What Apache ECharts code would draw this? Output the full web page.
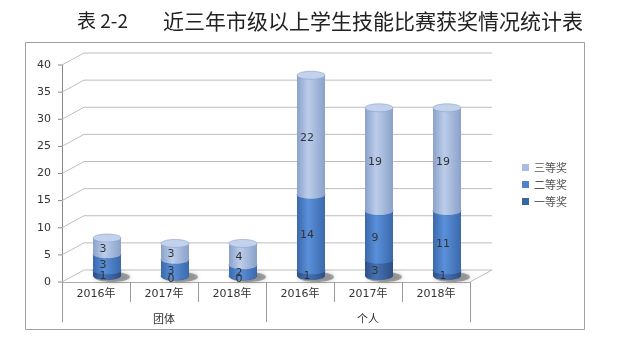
<!DOCTYPE html>
<html lang="zh">
<head>
<meta charset="UTF-8">
<title>近三年市级以上学生技能比赛获奖情况统计表</title>
<script src="https://cdn.jsdelivr.net/npm/echarts@6/dist/echarts.min.js"></script>
<style>
  html, body { margin: 0; padding: 0; background: #fff; }
  #main { width: 620px; height: 352px; }
</style>
</head>
<body>
<div id="main"></div>
<script>
var years = ['2016年', '2017年', '2018年', '2016年', '2017年', '2018年'];
var groups = ['团体', '个人'];
var first = [1, 0, 0, 1, 3, 1];       // 一等奖
var second = [3, 3, 2, 14, 9, 11];    // 二等奖
var third = [3, 3, 4, 22, 19, 19];    // 三等奖
var yTicks = [0, 5, 10, 15, 20, 25, 30, 35, 40];

var DX = 22, DY = -12;   // depth of the 3d box
var BAR_W = 28, CAP = 4;
var numFont = '"DejaVu Sans", "Noto Sans CJK SC", sans-serif';
var cjkFont = '"Noto Sans CJK SC", sans-serif';

function stack(vals, below) {
    return vals.map(function (v, i) {
        var base = 0;
        below.forEach(function (arr) { base += arr[i]; });
        return [i, base, v];
    });
}

function shade(light, dark) {
    return new echarts.graphic.LinearGradient(0, 0, 1, 0, [
        { offset: 0, color: dark },
        { offset: 0.4, color: light },
        { offset: 1, color: dark }
    ]);
}

// one stacked piece of a cylinder, plus its value label
function cylinder(light, dark, cap) {
    return function (params, api) {
        var bot = api.coord([api.value(0), api.value(1)]);
        var top = api.coord([api.value(0), api.value(1) + api.value(2)]);
        var cx = bot[0], rx = BAR_W / 2;
        var fill = shade(light, dark);
        return {
            type: 'group',
            children: [
                { type: 'ellipse', shape: { cx: cx, cy: bot[1], rx: rx, ry: CAP }, style: { fill: fill } },
                { type: 'rect', shape: { x: cx - rx, y: top[1], width: BAR_W, height: bot[1] - top[1] }, style: { fill: fill } },
                { type: 'ellipse', shape: { cx: cx, cy: top[1], rx: rx, ry: CAP }, style: { fill: cap, stroke: dark, lineWidth: 0.6 } },
                {
                    type: 'text', z2: 100,
                    x: cx - 4, y: (top[1] + bot[1]) / 2 + 3,
                    style: {
                        text: String(api.value(2)), fill: '#333', font: '11px ' + numFont,
                        textAlign: 'center', textVerticalAlign: 'middle'
                    }
                }
            ]
        };
    };
}

// back wall grid lines, the diagonals and the floor
function walls(params, api) {
    var cs = params.coordSys;
    var y = api.coord([0, api.value(1)])[1];
    var x0 = cs.x, x1 = cs.x + cs.width;
    var st = { stroke: '#bdbdbd', lineWidth: 1 };
    var kids = [
        { type: 'line', shape: { x1: x0 - 4, y1: y, x2: x0, y2: y }, style: { stroke: '#888', lineWidth: 1 } },
        { type: 'line', shape: { x1: x0, y1: y, x2: x0 + DX, y2: y + DY }, style: st },
        { type: 'line', shape: { x1: x0 + DX, y1: y + DY, x2: x1 + DX, y2: y + DY }, style: st }
    ];
    if (api.value(1) === 0) {
        kids.push({ type: 'line', shape: { x1: x1, y1: y, x2: x1 + DX, y2: y + DY }, style: st });
    }
    return { type: 'group', children: kids };
}

function floorShadow(params, api) {
    var p = api.coord([api.value(0), 0]);
    return {
        type: 'ellipse',
        shape: { cx: p[0] + 5, cy: p[1] + 1, rx: 18, ry: 5 },
        style: { fill: 'rgba(70,70,70,0.45)', shadowBlur: 5, shadowColor: 'rgba(0,0,0,0.5)' }
    };
}

var totals = years.map(function (y, i) { return first[i] + second[i] + third[i]; });

var myChart = echarts.init(document.getElementById('main'));
var option = {
    animation: false,
    title: [{
        text: '表 2-2', left: 72, top: 6,
        textStyle: { fontSize: 19, fontWeight: 'normal', color: '#222', fontFamily: cjkFont }
    }, {
        text: '近三年市级以上学生技能比赛获奖情况统计表', left: 158, top: 6,
        textStyle: { fontSize: 21, fontWeight: 'normal', color: '#222', fontFamily: cjkFont }
    }],
    graphic: [{
        type: 'rect', left: 23, top: 40, z: -1,
        shape: { width: 559, height: 287 },
        style: { fill: 'none', stroke: '#a0a0a0', lineWidth: 1 }
    }],
    legend: {
        orient: 'vertical', left: 517, top: 157,
        itemWidth: 7, itemHeight: 7, itemGap: 6, icon: 'rect',
        data: ['三等奖', '二等奖', '一等奖'],
        textStyle: { fontSize: 11, color: '#555', fontFamily: cjkFont }
    },
    grid: [
        { left: 62, right: 150, top: 65, bottom: 70 },
        { left: 73, right: 139, top: 59, bottom: 76 }
    ],
    xAxis: [{
        gridIndex: 0, type: 'category', data: years, position: 'bottom',
        axisLine: { show: true, lineStyle: { color: '#aaa' } },
        axisTick: { show: true, interval: 0, length: 20, lineStyle: { color: '#999' } },
        axisLabel: { interval: 0, margin: 7, fontSize: 11, color: '#333', fontFamily: numFont }
    }, {
        gridIndex: 0, type: 'category', data: groups, position: 'bottom',
        axisLine: { show: false },
        axisTick: { show: true, interval: 0, length: 40, lineStyle: { color: '#999' } },
        axisLabel: { interval: 0, margin: 31, fontSize: 11, color: '#333', fontFamily: cjkFont }
    }, {
        gridIndex: 1, type: 'category', data: years, show: false
    }],
    yAxis: [{
        gridIndex: 0, type: 'value', min: 0, max: 40, interval: 5,
        axisLine: { show: true, lineStyle: { color: '#888' } },
        axisTick: { show: false },
        splitLine: { show: false },
        axisLabel: { margin: 11, fontSize: 11, color: '#333', fontFamily: numFont }
    }, {
        gridIndex: 1, type: 'value', min: 0, max: 40, show: false
    }],
    series: [{
        type: 'custom', xAxisIndex: 0, yAxisIndex: 0, silent: true,
        renderItem: walls,
        data: yTicks.map(function (v) { return [0, v]; })
    }, {
        type: 'custom', xAxisIndex: 2, yAxisIndex: 1, silent: true,
        renderItem: floorShadow,
        data: totals.map(function (t, i) { return [i, t]; })
    }, {
        name: '一等奖', type: 'custom', xAxisIndex: 2, yAxisIndex: 1,
        itemStyle: { color: '#3a65a3' },
        renderItem: cylinder('#4673b3', '#2c4f86', '#4a77b6'),
        data: stack(first, [])
    }, {
        name: '二等奖', type: 'custom', xAxisIndex: 2, yAxisIndex: 1,
        itemStyle: { color: '#4d82cc' },
        renderItem: cylinder('#5a90da', '#3b69ab', '#6a9ade'),
        data: stack(second, [first])
    }, {
        name: '三等奖', type: 'custom', xAxisIndex: 2, yAxisIndex: 1,
        itemStyle: { color: '#a9bde2' },
        renderItem: cylinder('#bccdeb', '#8aa1c9', '#c3d2ec'),
        data: stack(third, [first, second])
    }]
};

myChart.setOption(option);
</script>
</body>
</html>
